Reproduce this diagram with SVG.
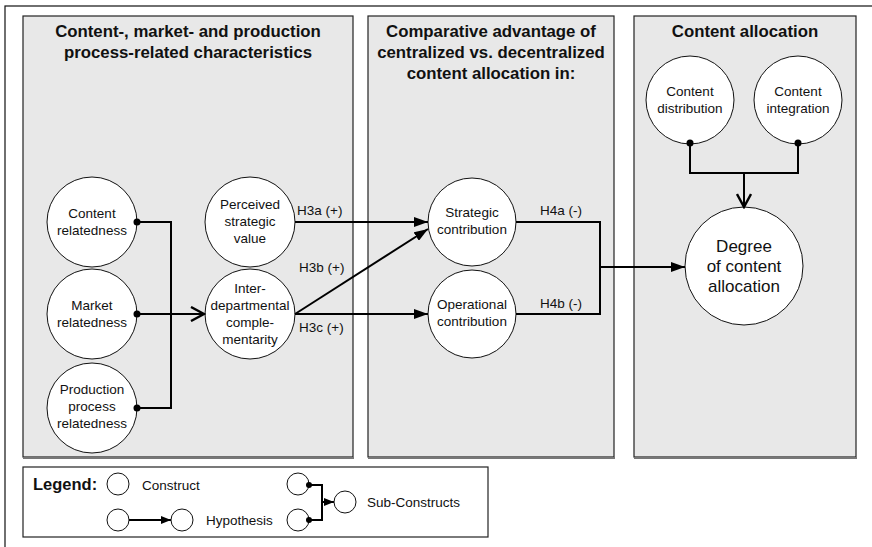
<svg xmlns="http://www.w3.org/2000/svg" width="872" height="547" viewBox="0 0 872 547">
  <defs>
    <marker id="tri" markerUnits="userSpaceOnUse" markerWidth="14" markerHeight="10" refX="14" refY="5" orient="auto">
      <path d="M0,0 L14,5 L0,10 z" fill="#000"/>
    </marker>
    <marker id="tri-s" markerUnits="userSpaceOnUse" markerWidth="10" markerHeight="8" refX="10" refY="4" orient="auto">
      <path d="M0,0 L10,4 L0,8 z" fill="#000"/>
    </marker>
    <marker id="vee" markerUnits="userSpaceOnUse" markerWidth="16" markerHeight="16" refX="14" refY="8" orient="auto">
      <path d="M1,1 L14,8 L1,15" fill="none" stroke="#000" stroke-width="2.4"/>
    </marker>
  </defs>
  <style>
    text { font-family: "Liberation Sans", Arial, sans-serif; fill: #111; }
    .hd { font-size: 16.8px; font-weight: bold; text-anchor: middle; }
    .nd { font-size: 13.5px; text-anchor: middle; }
    .big { font-size: 17px; text-anchor: middle; }
    .lb { font-size: 13.5px; }
    .panel { fill: #e8e8e8; stroke: #222; stroke-width: 1.2; }
    .shadow { fill: none; stroke: #777; stroke-width: 2.2; }
    .node { fill: #fff; stroke: #111; stroke-width: 1; }
    .wire { fill: none; stroke: #000; stroke-width: 2; }
    .dot { fill: #000; }
  </style>

  <!-- outer frame -->
  <rect x="5" y="6" width="900" height="600" fill="#fff" stroke="#111" stroke-width="1.2"/>

  <!-- column panels -->
  <g id="panel-characteristics">
    <rect class="panel" x="23" y="16" width="330" height="441"/>
    <path class="shadow" d="M23,458 H354"/>
    <text class="hd" x="188" y="37">Content-, market- and production</text>
    <text class="hd" x="188" y="58">process-related characteristics</text>
  </g>
  <g id="panel-advantage">
    <rect class="panel" x="368" y="16" width="246" height="441"/>
    <path class="shadow" d="M368,458 H615"/>
    <text class="hd" x="491" y="37">Comparative advantage of</text>
    <text class="hd" x="491" y="58">centralized vs. decentralized</text>
    <text class="hd" x="491" y="79">content allocation in:</text>
  </g>
  <g id="panel-allocation">
    <rect class="panel" x="634" y="16" width="222" height="441"/>
    <path class="shadow" d="M634,458 H857"/>
    <text class="hd" x="745" y="37">Content allocation</text>
  </g>

  <!-- constructs -->
  <g id="content-relatedness">
    <circle class="node" cx="92" cy="222" r="45"/>
    <text class="nd" x="92" y="218">Content</text>
    <text class="nd" x="92" y="235">relatedness</text>
  </g>
  <g id="market-relatedness">
    <circle class="node" cx="92" cy="314" r="45"/>
    <text class="nd" x="92" y="310">Market</text>
    <text class="nd" x="92" y="327">relatedness</text>
  </g>
  <g id="production-relatedness">
    <circle class="node" cx="92" cy="408" r="45"/>
    <text class="nd" x="92" y="394">Production</text>
    <text class="nd" x="92" y="411">process</text>
    <text class="nd" x="92" y="428">relatedness</text>
  </g>
  <g id="perceived-value">
    <circle class="node" cx="250" cy="222" r="45"/>
    <text class="nd" x="250" y="209">Perceived</text>
    <text class="nd" x="250" y="226">strategic</text>
    <text class="nd" x="250" y="243">value</text>
  </g>
  <g id="complementarity">
    <circle class="node" cx="250" cy="314" r="45"/>
    <text class="nd" x="250" y="293">Inter-</text>
    <text class="nd" x="250" y="310">departmental</text>
    <text class="nd" x="250" y="327">comple-</text>
    <text class="nd" x="250" y="344">mentarity</text>
  </g>
  <g id="strategic-contribution">
    <circle class="node" cx="472" cy="222" r="44"/>
    <text class="nd" x="472" y="217">Strategic</text>
    <text class="nd" x="472" y="234">contribution</text>
  </g>
  <g id="operational-contribution">
    <circle class="node" cx="472" cy="314" r="44"/>
    <text class="nd" x="472" y="309">Operational</text>
    <text class="nd" x="472" y="326">contribution</text>
  </g>
  <g id="content-distribution">
    <circle class="node" cx="690" cy="100" r="44"/>
    <text class="nd" x="690" y="96">Content</text>
    <text class="nd" x="690" y="113">distribution</text>
  </g>
  <g id="content-integration">
    <circle class="node" cx="798" cy="100" r="44"/>
    <text class="nd" x="798" y="96">Content</text>
    <text class="nd" x="798" y="113">integration</text>
  </g>
  <g id="degree-allocation">
    <circle class="node" cx="744" cy="266" r="59"/>
    <text class="big" x="744" y="252">Degree</text>
    <text class="big" x="744" y="272">of content</text>
    <text class="big" x="744" y="292">allocation</text>
  </g>

  <!-- connectors -->
  <g id="connectors">
    <!-- relatedness constructs combine into complementarity -->
    <path class="wire" d="M137,222 H171 V408 H137"/>
    <path class="wire" d="M137,314 H204" marker-end="url(#vee)"/>
    <!-- H3a / H3b / H3c -->
    <path class="wire" d="M295,222 H428" marker-end="url(#tri)"/>
    <path class="wire" d="M295,314 L428,229" marker-end="url(#tri)"/>
    <path class="wire" d="M295,314 H428" marker-end="url(#tri)"/>
    <!-- H4a / H4b -->
    <path class="wire" d="M516,222 H600 V314 H516"/>
    <path class="wire" d="M600,267 H685" marker-end="url(#tri)"/>
    <!-- sub-constructs of content allocation -->
    <path class="wire" d="M690,143 V173 H798 V143"/>
    <path class="wire" d="M744,173 V207" marker-end="url(#vee)"/>
    <circle class="dot" cx="137" cy="222" r="3.5"/>
    <circle class="dot" cx="137" cy="314" r="3.5"/>
    <circle class="dot" cx="137" cy="408" r="3.5"/>
    <circle class="dot" cx="690" cy="143" r="3.5"/>
    <circle class="dot" cx="798" cy="143" r="3.5"/>
    <text class="lb" x="297" y="215">H3a (+)</text>
    <text class="lb" x="299" y="272">H3b (+)</text>
    <text class="lb" x="299" y="332">H3c (+)</text>
    <text class="lb" x="540" y="215">H4a (-)</text>
    <text class="lb" x="540" y="308">H4b (-)</text>
  </g>

  <!-- legend -->
  <g id="legend">
    <rect x="23" y="467" width="465" height="70" fill="#fff" stroke="#222" stroke-width="1.2"/>
    <text x="33" y="490" font-size="16.5" font-weight="bold">Legend:</text>
    <circle class="node" cx="118" cy="484" r="11"/>
    <text class="lb" x="142" y="490">Construct</text>
    <circle class="node" cx="118" cy="520" r="11"/>
    <path class="wire" d="M129,520 H171" marker-end="url(#tri-s)"/>
    <circle class="node" cx="182" cy="520" r="11"/>
    <text class="lb" x="206" y="525">Hypothesis</text>
    <circle class="node" cx="298" cy="484" r="11"/>
    <circle class="node" cx="298" cy="520" r="11"/>
    <path class="wire" d="M309,485 H322 V520 H309"/>
    <path class="wire" d="M322,502 H334" marker-end="url(#tri-s)"/>
    <circle class="dot" cx="309" cy="485" r="3"/>
    <circle class="dot" cx="309" cy="520" r="3"/>
    <circle class="node" cx="345" cy="502" r="11"/>
    <text class="lb" x="367" y="507">Sub-Constructs</text>
  </g>
</svg>
